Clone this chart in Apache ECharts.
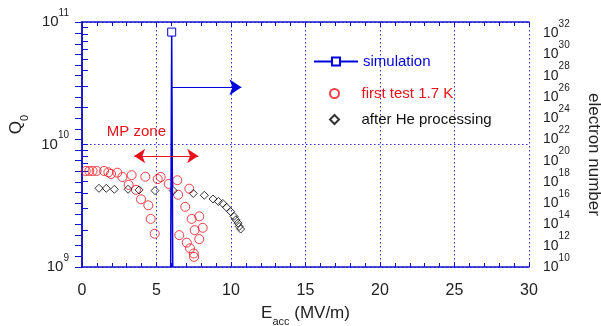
<!DOCTYPE html>
<html>
<head>
<meta charset="utf-8">
<script src="https://cdn.jsdelivr.net/npm/echarts@6/dist/echarts.min.js"></script>
<style>
  html, body { margin: 0; padding: 0; background: #fff; }
  #chart { width: 601px; height: 326px; }
</style>
</head>
<body>
<div id="chart"></div>
<script>
// simulation: electron number vs Eacc (right axis)
const simE = [5.95, 6.02, 6.09]
const simN = [1e10, 1.26e32, 1e10]

// first test 1.7 K: Q0 vs Eacc
const firstE = [0.25, 0.49, 0.71, 0.98, 1.48, 1.77, 1.95, 2.37, 2.71, 3.13, 3.33, 3.62, 3.96, 4.25,
  4.45, 4.61, 4.88, 5.08, 5.28, 5.82, 6.4, 6.45, 6.53, 6.93, 7.03, 7.2, 7.25, 7.36, 7.5, 7.52,
  7.56, 7.87, 7.87, 8.1]
const firstQ = [6.08e9, 6.08e9, 6.08e9, 6.08e9, 6.08e9, 5.93e9, 5.75e9, 5.89e9, 5.43e9, 4.68e9, 5.62e9, 4.27e9, 3.57e9, 5.46e9,
  3.19e9, 2.47e9, 1.87e9, 5.22e9, 5.43e9, 4.76e9, 5.11e9, 3.89e9, 1.82e9, 3.10e9, 1.58e9, 4.36e9, 1.42e9, 2.47e9, 1.29e9, 1.21e9,
  2.00e9, 2.59e9, 1.69e9, 2.09e9]

// after He processing
const heE = [1.14, 1.63, 2.17, 3.09, 3.83, 4.9, 6.12, 7.47, 8.21, 8.8, 9.15, 9.45, 9.7, 9.98,
  10.2, 10.33, 10.47, 10.55, 10.65]
const heQ = [4.39e9, 4.39e9, 4.31e9, 4.31e9, 4.26e9, 4.2e9, 4.2e9, 3.98e9, 3.85e9, 3.59e9, 3.43e9, 3.3e9, 3.07e9, 2.83e9,
  2.59e9, 2.43e9, 2.28e9, 2.14e9, 2.04e9]

// axis ranges, in decades
const q0Range = [9, 11]
const electronRange = [10, 33.05]
const q0MinorTicks = [2, 3, 4, 5, 6, 7, 8, 9, 10, 20, 30, 40, 50, 60, 70, 80, 90].map(m => 9 + Math.log10(m))

const lg = Math.log10
const BLUE = "#0000dd"
const AXIS = "#1212cc"
const RED = "#e8121a"
const FONT = "Liberation Sans, Arial, sans-serif"
const DIAMOND = "path://M5,0L10,5L5,10L0,5Z"

const supRich = (size) => ({
  b: { fontSize: size, fontFamily: FONT, color: "#222", lineHeight: 28 },
  s: { fontSize: 10, fontFamily: FONT, color: "#222", verticalAlign: "top", lineHeight: 12 },
})
const subRich = {
  b: { fontSize: 17, fontFamily: FONT, color: "#222", lineHeight: 28 },
  s: { fontSize: 11, fontFamily: FONT, color: "#222", verticalAlign: "bottom", lineHeight: 10 },
}
const gridDots = { color: "#3030e0", type: [1.5, 2.5], width: 1 }

const chart = echarts.init(document.getElementById("chart"))

const xCommon = {
  type: "value",
  min: 0,
  max: 30,
  interval: 5,
  axisLine: { lineStyle: { color: AXIS, width: 1.5 } },
  axisTick: { inside: true, length: 5, lineStyle: { color: AXIS } },
  minorTick: { show: true, splitNumber: 5, length: 4, lineStyle: { color: AXIS } },
}

chart.setOption({
  animation: false,
  grid: { left: 82, right: 72, top: 22, bottom: 59, outerBoundsMode: "none" },
  legend: [
    {
      data: [{ name: "simulation", textStyle: { color: BLUE } }],
      left: 313,
      top: 54,
      padding: 0,
      itemWidth: 44,
      itemHeight: 10,
      selectedMode: false,
      textStyle: { fontSize: 15, fontFamily: FONT },
    },
    {
      data: [
        { name: "first test 1.7 K", textStyle: { color: RED } },
        { name: "after He processing", icon: DIAMOND, textStyle: { color: "#111" } },
      ],
      orient: "vertical",
      left: 329,
      top: 86,
      padding: 0,
      itemGap: 11,
      itemWidth: 44,
      itemHeight: 9,
      selectedMode: false,
      textStyle: { fontSize: 15, fontFamily: FONT },
    },
  ],
  xAxis: [
    {
      ...xCommon,
      position: "bottom",
      name: "{b|E}{s|acc}{b| (MV/m)}",
      nameLocation: "middle",
      nameGap: 32,
      nameTextStyle: { rich: subRich },
      axisLabel: { fontSize: 16, fontFamily: FONT, color: "#222", margin: 16 },
      splitLine: { show: true, lineStyle: gridDots },
    },
    {
      ...xCommon,
      position: "top",
      axisLabel: { show: false },
      splitLine: { show: false },
    },
  ],
  yAxis: [
    {
      type: "value",
      min: q0Range[0],
      max: q0Range[1],
      interval: 1,
      position: "left",
      name: "{b|Q}{s|0}",
      nameLocation: "middle",
      nameRotate: 90,
      nameGap: 52,
      nameTextStyle: { padding: [0, 0, 0, 40], rich: subRich },
      axisLine: { show: true, lineStyle: { color: AXIS, width: 1.5 } },
      axisTick: { show: true, inside: true, length: 6, customValues: q0MinorTicks, lineStyle: { color: AXIS } },
      axisLabel: {
        margin: 13,
        formatter: (v) => (Number.isInteger(v) ? "{b|10}{s|" + v + "}" : ""),
        rich: supRich(15),
      },
      splitLine: { show: false },
    },
    {
      type: "value",
      min: electronRange[0],
      max: electronRange[1],
      interval: 1,
      position: "right",
      name: "electron number",
      nameLocation: "middle",
      nameRotate: -90,
      nameGap: 56,
      nameTextStyle: { fontSize: 17, fontFamily: FONT, color: "#222", padding: [0, 0, 0, 20] },
      axisLine: { show: true, lineStyle: { color: AXIS, width: 1.5 } },
      axisTick: { show: true, inside: true, length: 7, lineStyle: { color: AXIS } },
      axisLabel: {
        margin: 14,
        formatter: (v) => (Number.isInteger(v) && v % 2 === 0 ? "{b|10}{s|" + v + "}" : ""),
        rich: supRich(14),
      },
      splitLine: { show: false },
    },
    {
      // only carries the horizontal grid line at 10^10
      type: "value",
      min: q0Range[0],
      max: q0Range[1],
      interval: 1,
      position: "left",
      axisLine: { show: false },
      axisTick: { show: false },
      axisLabel: { show: false },
      splitLine: { show: true, lineStyle: gridDots },
    },
  ],
  series: [
    {
      name: "simulation",
      type: "line",
      xAxisIndex: 0,
      yAxisIndex: 1,
      symbol: "rect",
      symbolSize: 8,
      showAllSymbol: true,
      itemStyle: { color: "#fff", borderColor: BLUE, borderWidth: 1 },
      lineStyle: { color: BLUE, width: 1.5 },
      data: simE.map((e, i) => ({
        value: [e, lg(simN[i])],
        symbol: simN[i] > 1e11 ? "rect" : "none",
      })),
      markLine: {
        silent: true,
        symbol: ["none", "arrow"],
        symbolSize: 12,
        label: { show: false },
        lineStyle: { color: BLUE, type: "solid", width: 1 },
        data: [[{ coord: [6.02, 26.9] }, { coord: [10.7, 26.9] }]],
      },
      z: 3,
    },
    {
      name: "first test 1.7 K",
      type: "scatter",
      xAxisIndex: 0,
      yAxisIndex: 0,
      symbol: "circle",
      symbolSize: 9,
      itemStyle: { color: "rgba(0,0,0,0)", borderColor: RED, borderWidth: 1 },
      data: firstE.map((e, i) => [e, lg(firstQ[i])]),
      markLine: {
        silent: true,
        symbol: ["arrow", "arrow"],
        symbolSize: 11,
        label: { show: false },
        lineStyle: { color: RED, type: "solid", width: 1 },
        data: [[{ coord: [3.5, lg(8.05e9)] }, { coord: [7.8, lg(8.05e9)] }]],
      },
      markPoint: {
        silent: true,
        symbol: "circle",
        symbolSize: 1,
        itemStyle: { color: "rgba(0,0,0,0)" },
        label: { show: true, position: "inside", formatter: "MP zone", color: RED, fontSize: 15, fontFamily: FONT },
        data: [{ coord: [3.65, lg(1.27e10)] }],
      },
    },
    {
      name: "after He processing",
      type: "scatter",
      xAxisIndex: 0,
      yAxisIndex: 0,
      symbol: "diamond",
      symbolSize: 8,
      itemStyle: { color: "rgba(0,0,0,0)", borderColor: "#000", borderWidth: 1 },
      data: heE.map((e, i) => [e, lg(heQ[i])]),
    },
  ],
})
</script>
</body>
</html>
